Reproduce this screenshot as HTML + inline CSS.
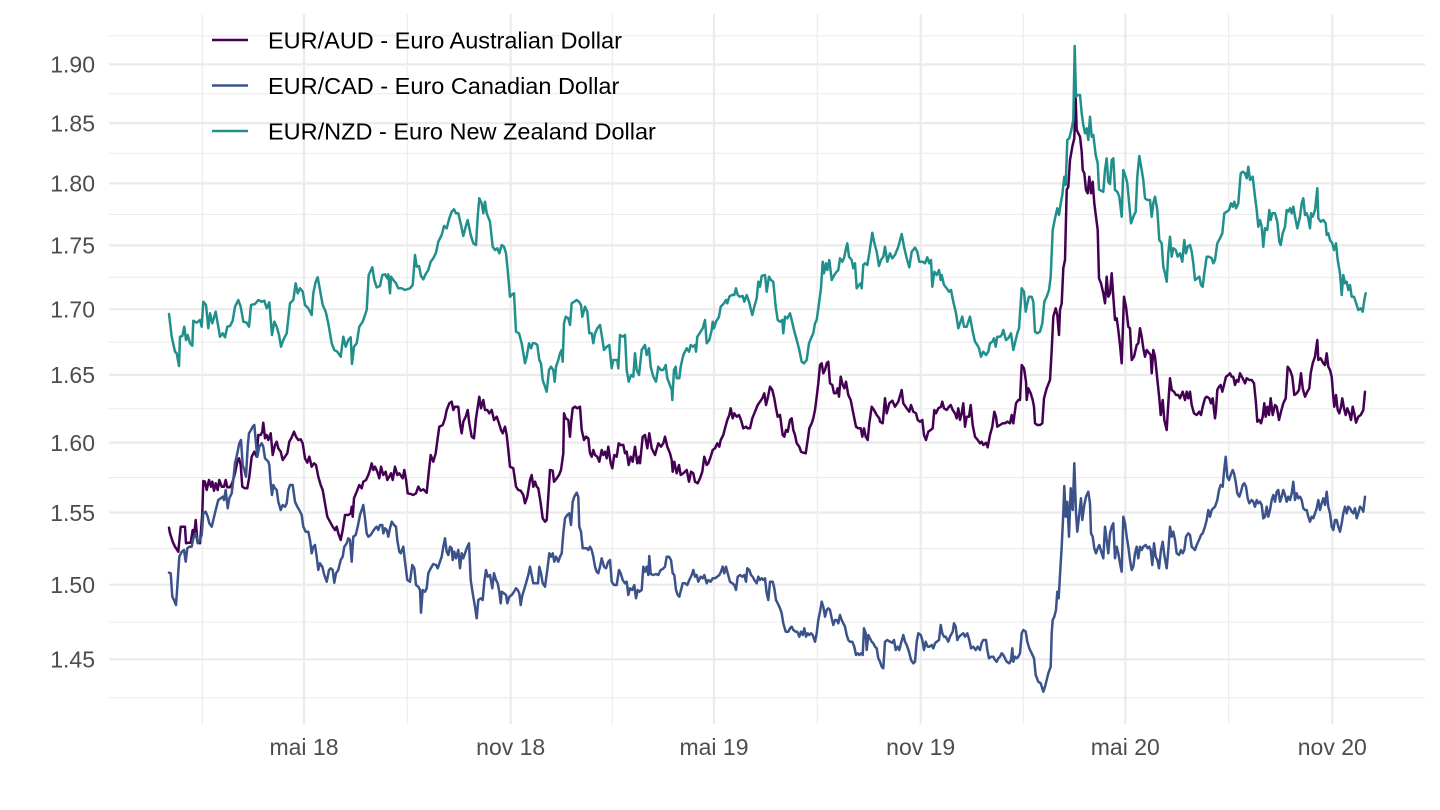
<!DOCTYPE html>
<html>
<head>
<meta charset="utf-8">
<style>
html,body{margin:0;padding:0;background:#fff;}
svg{display:block;font-family:"Liberation Sans",Arial,sans-serif;}
</style>
</head>
<body>
<svg width="1440" height="810" viewBox="0 0 1440 810" xmlns="http://www.w3.org/2000/svg">
<rect width="1440" height="810" fill="#fff"/>
<g stroke="#ebebeb" stroke-width="1.1" fill="none">
<line x1="109" x2="1425" y1="35.8" y2="35.8"/>
<line x1="109" x2="1425" y1="93.75" y2="93.75"/>
<line x1="109" x2="1425" y1="153.25" y2="153.25"/>
<line x1="109" x2="1425" y1="214.4" y2="214.4"/>
<line x1="109" x2="1425" y1="277.3" y2="277.3"/>
<line x1="109" x2="1425" y1="342.05" y2="342.05"/>
<line x1="109" x2="1425" y1="408.75" y2="408.75"/>
<line x1="109" x2="1425" y1="477.55" y2="477.55"/>
<line x1="109" x2="1425" y1="548.6" y2="548.6"/>
<line x1="109" x2="1425" y1="622" y2="622"/>
<line x1="109" x2="1425" y1="697.8" y2="697.8"/>
<line x1="202.3" x2="202.3" y1="14" y2="724"/>
<line x1="407.3" x2="407.3" y1="14" y2="724"/>
<line x1="612.3" x2="612.3" y1="14" y2="724"/>
<line x1="817.3" x2="817.3" y1="14" y2="724"/>
<line x1="1023.3" x2="1023.3" y1="14" y2="724"/>
<line x1="1228.7" x2="1228.7" y1="14" y2="724"/>
</g>
<g stroke="#ebebeb" stroke-width="2.2" fill="none">
<line x1="109" x2="1425" y1="64.4" y2="64.4"/>
<line x1="109" x2="1425" y1="123.1" y2="123.1"/>
<line x1="109" x2="1425" y1="183.4" y2="183.4"/>
<line x1="109" x2="1425" y1="245.4" y2="245.4"/>
<line x1="109" x2="1425" y1="309.2" y2="309.2"/>
<line x1="109" x2="1425" y1="374.9" y2="374.9"/>
<line x1="109" x2="1425" y1="442.6" y2="442.6"/>
<line x1="109" x2="1425" y1="512.5" y2="512.5"/>
<line x1="109" x2="1425" y1="584.7" y2="584.7"/>
<line x1="109" x2="1425" y1="659.3" y2="659.3"/>
<line x1="304" x2="304" y1="14" y2="724"/>
<line x1="510.7" x2="510.7" y1="14" y2="724"/>
<line x1="714" x2="714" y1="14" y2="724"/>
<line x1="920.7" x2="920.7" y1="14" y2="724"/>
<line x1="1125.3" x2="1125.3" y1="14" y2="724"/>
<line x1="1332.3" x2="1332.3" y1="14" y2="724"/>
</g>

<g font-size="23" fill="#4d4d4d" text-anchor="end">
<text x="95" y="72.7">1.90</text>
<text x="95" y="131.4">1.85</text>
<text x="95" y="191.7">1.80</text>
<text x="95" y="253.7">1.75</text>
<text x="95" y="317.5">1.70</text>
<text x="95" y="383.2">1.65</text>
<text x="95" y="450.9">1.60</text>
<text x="95" y="520.8">1.55</text>
<text x="95" y="593">1.50</text>
<text x="95" y="667.6">1.45</text>
</g>
<g font-size="23" fill="#4d4d4d" text-anchor="middle">
<text x="304" y="755">mai 18</text>
<text x="510.7" y="755">nov 18</text>
<text x="714" y="755">mai 19</text>
<text x="920.7" y="755">nov 19</text>
<text x="1125.3" y="755">mai 20</text>
<text x="1332.3" y="755">nov 20</text>
</g>

<g fill="none" stroke-width="2.5" stroke-linejoin="round" stroke-linecap="round">
<polyline stroke="#440154" points="169,527.7 170,533.3 172.7,541.7 175,546.7 178.3,551.7 180.7,526.7 183.3,526.7 185,526.7 186,543.3 188.3,542.7 190.7,542.7 192.7,530 194.3,535 195.7,520 197.3,540 200,543.3 202.3,513.3 203.3,481 205,481.7 206.7,490 209,480 211,486.7 212.3,481.7 214,490.7 215.7,483.3 217.7,490 219.3,480 221.7,486.7 224,486.7 225.7,480 227.3,487.3 230,487.3 232.3,482.7 235,473.3 237.3,461.7 239,458.3 240.7,465 242.3,486.7 245,488.3 247.3,488.3 249.3,476.7 251.7,456.7 254.3,451.7 256.7,456.7 258.3,435 260.7,435 262.3,431.7 263.3,422.7 265,438.3 266.7,435 268.3,440 270.7,433.3 272.7,455 275,445 276.7,441.7 278.3,448.3 280.7,451.7 282.7,460 285,456.7 287.3,453.3 289.3,441.7 291.7,437.3 294,431.7 296,436.7 298.3,440 300.7,439.3 302.7,443.3 305,458.3 307.3,462.7 309.3,456.7 311.7,466.7 314,463.3 316,465 318.3,476.7 320.7,485 322.7,490 325,503.3 327.3,516.7 330,521.7 332.7,526.7 335,530 336.7,526.7 338.3,533.3 340.7,540 342.7,530 345,515 348.3,515 350.7,513.3 351.7,506.7 352.7,516.7 354,498.3 356.7,491.7 359.3,485 361.7,488.3 363.3,481.7 366,480 368.3,475 370,470 371.7,463.3 373.3,470 375,466.7 377.3,471.7 379.3,478.3 381,466.7 383.3,475 385.7,471.7 387.3,480 389.3,476.7 391,473.3 392.7,480 395,466.7 397.3,475 399.3,473.3 402.7,478.3 404.3,470 406,479.3 407.7,493.3 410.7,494 413.3,495 416,493.3 418.3,486.7 420.7,490.7 423.3,489.3 426.7,492.7 429,470 430.7,455 433.3,461.7 435.7,453.3 437,443.3 439.3,426.7 442.7,425 445,418.3 446.7,410 449.3,403.3 451.7,401.7 453.3,410 455,406.7 458.3,406.7 460,423.3 461.7,433.3 463.3,421.7 465.7,416.7 467.7,410 469.3,423.3 471.7,436.7 474,438.3 476,418.3 479.3,396.7 481,408.3 483.3,400 485,410 487.3,410 489.3,413.3 491.7,410 494,420 496.7,416.7 499,423.3 501,430 502.7,433.3 505,426.7 506.7,435 508.3,450 510,466.7 513.3,468.3 516,486.7 518.3,490 520.7,490.7 523.3,495 525,503.3 527.3,496.7 530,480 531.7,475 533.3,486.7 535,481.7 536.7,486.7 538.3,488.3 540.7,503.3 542.7,518.3 545,521.7 546.7,520 548.3,496.7 550,470 552.7,470.7 554,481.7 556.7,478.3 559,475 561,470 563.3,453.3 564,413.3 565.7,418.3 568.3,420 570,436.7 571,423.3 572.7,408.3 575,406.7 577.3,408.3 580,406.7 581.7,430 584,440 586,436.7 588.3,438.3 590,453.3 591.7,456.7 593.3,450 595,455 597.3,456.7 599.3,461.7 601.7,450 603.3,455 605,451.7 606.7,458.3 608.3,446.7 610.7,463.3 612.3,468.3 614.3,455 616.7,456.7 618.7,443.3 620.7,445 623.3,445 625,453.3 626.7,451.7 628.7,465 630.7,456.7 632.7,461.7 635,446.7 637.3,463.3 639.3,456.7 640,463.3 642.7,436.7 645,435 647.3,448.3 649.3,433.3 651.7,448.3 655,455 658.3,443.3 661,446.7 663.3,443.3 665,436.7 667.3,446.7 670,453.3 671.7,460 672.7,471.7 674.3,461.7 676.7,473.3 679,465 680.7,475 683.3,473.3 686.7,470 689,481.7 691,471.7 693.3,473.3 695,481.7 697.7,483.3 700,478.3 702.3,471.7 704.3,456.7 706.7,465 708.3,463.3 710.7,456.7 712.7,450 715,448.3 717.3,443.3 719.3,446.7 720.7,440 723.3,435 725,428.3 727.3,420 729.3,415 730.7,408.3 732.7,418.3 734.3,413.3 736.7,416.7 739,415 741,420 743.3,428.3 746,426.7 747.7,428.3 750,428.3 752.3,418.3 755,411.7 757.7,405 760,401.7 762.3,398.3 764.3,393.3 766,405 767.7,398.3 770,386.7 772.3,390 774.3,398.3 776,408.3 777.7,416.7 780,415 782.7,435 784.3,436.7 786,430 787.7,431.7 790,420 791.7,418.3 793.3,430 795,435 796.7,443.3 799.3,446.7 801,451.7 803.3,452.7 805.7,453.3 807.7,440 809.3,428.3 811.7,423.3 813.3,418.3 815,410 816.7,396.7 818.3,383.3 820,365 821.7,363.3 823.3,373.3 825,370 826.7,363.3 828.3,361.7 830,383.3 832.3,385 834,393.3 836,393.3 837.7,388.3 839,396.7 840.7,376.7 842.7,385 844.3,388.3 846,381.7 848.3,395 850.7,400 852.3,408.3 854,416.7 856,426.7 858.3,428.3 860.7,428.3 862.3,436.7 864,428.3 865.7,436.7 867.7,440 869.3,423.3 871.7,406.7 874,410 876.7,415 879.3,418.3 880,421.7 882.7,423.3 885,398.3 886.7,413.3 889.3,403.3 892.3,400.7 895,406.7 898.3,401.7 901.7,390 903.3,403.3 906.7,408.3 909.3,411.7 911,405 913.3,411.7 916,413.3 917.7,420 920,421.7 922.3,420 924,435 926,440 928.3,431.7 930.7,430 932.7,428.3 934.3,410 936,413.3 938.3,408.3 941,406.7 942.3,401.7 944,408.3 946.7,410 949,406.7 950.7,405 952.7,410 955,413.3 956.7,418.3 958.3,408.3 960,420 961.7,413.3 963.3,403.3 965,426.7 966.7,416.7 969,416.7 970.7,405 972.7,425 975,436.7 977.7,440 980,443.3 981.7,441.7 983.3,445 986,442.7 987.7,447.3 990,435 992.3,426.7 994.3,411.7 996,416.7 997.3,426.7 1000,425 1002.7,423.3 1005,423.3 1007.3,421.7 1010,423.3 1011.7,415 1013.3,423.3 1016,403.3 1018.3,400 1020,400 1021.7,365 1024,368.3 1026,381.7 1026.7,400 1028.3,388.3 1030.7,393.3 1032.7,400 1034,406.7 1035,423.3 1037.3,425 1040,425 1042.3,423.3 1044,398.3 1046.7,388.3 1050,380 1051.7,350 1053.3,316.7 1055.7,308.3 1057.3,315 1059,335 1060,310 1061.7,303.3 1063.3,268.3 1065,260 1066.7,190 1068.3,186.7 1070,160 1072.3,146.7 1074.3,138.3 1075.7,98.3 1076.7,130 1078.3,133.3 1080,136.7 1081.7,151.7 1082.7,170 1084.3,173.3 1086,190 1087.7,193.3 1089.3,176.7 1091,193.3 1092.7,181.7 1094.3,203.3 1096,216.7 1097.7,230 1099,278.3 1101,283.3 1103.3,293.3 1105,303.3 1106.7,276.7 1108.3,296.7 1110,293.3 1111.7,273.3 1113.3,296.7 1115,320 1116.7,318.3 1118.3,330 1120,345 1121.7,363.3 1124,296.7 1126,306.7 1128.3,326.7 1130,328.3 1131.7,360 1134,356.7 1136.7,345 1138.3,343.3 1140,328.3 1141.7,336.7 1143.3,348.3 1145,356.7 1146.7,350 1149.3,353.3 1150.7,355 1151.7,373.3 1153.3,350 1155,356.7 1156.7,373.3 1159.3,398.3 1160.7,415 1162.7,400 1164.3,420 1166.7,430 1168.3,403.3 1170,378.3 1171.7,390 1174,391.7 1176,395 1178.3,395 1180,398.3 1182.7,391.7 1185,400 1186.7,391.7 1188.3,398.3 1190,391.7 1191.7,405 1194,413.3 1196.7,415 1199.3,411.7 1201,415 1202.7,406.7 1205,398.3 1206.7,396.7 1209.3,398.3 1211,403.3 1212.7,398.3 1215,418.3 1216,410 1217.3,390 1219,386.7 1220.7,385 1222.3,391.7 1224,385 1226,376.7 1228.3,375 1230,373.3 1231.7,376.7 1233.3,376.7 1235,385 1236.7,380 1238.3,381.7 1240,373.3 1242.7,378.3 1245,383.3 1246.7,378.3 1249.3,380 1251.7,380 1254,383.3 1256,403.3 1257.3,421.7 1259.3,420 1261,423.3 1262.7,416.7 1264.3,403.3 1265.7,416.7 1267.3,406.7 1269,415 1270.7,398.3 1272.7,415 1275,405 1276.7,406.7 1279,420 1281,411.7 1283.3,403.3 1285.7,398.3 1287.7,366.7 1290,370 1292.3,376.7 1294.3,395 1296.7,393.3 1299,390 1301,373.3 1302.7,388.3 1305,396.7 1307.3,391.7 1309.3,388.3 1310.7,373.3 1312.7,363.3 1315,356.7 1317.3,340 1318.3,360 1320.7,358.3 1323.3,363.3 1325,365 1326.7,353.3 1328.3,366.7 1330,370 1331.7,376.7 1333.3,396.7 1334.3,406.7 1336,395 1337.7,410 1339.3,413.3 1341,406.7 1342.3,398.3 1344,408.3 1345.7,415 1347.3,408.3 1349.3,413.3 1351,420 1352.7,406.7 1354.3,413.3 1356,422.7 1358.3,416.7 1360.7,415 1363.3,410 1365,391.7"/>
<polyline stroke="#3b528b" points="169,572.7 170.7,573.3 172.3,596.7 174,600 176,605 177.3,586.7 179.3,556.7 181.7,551.7 184,550 185.7,561.7 187.3,548.3 189.3,546.7 191.7,546.7 193.3,538.3 195.7,533.3 197.7,543.3 200,540 201.7,535 203.3,513.3 205.7,511.7 207.7,516.7 209.3,523.3 211.7,526.7 213.3,520 215.7,510 218.3,500 220.7,498.3 222.7,496.7 224,500 225.7,490 227.7,508.3 229.3,498.3 231.7,493.3 233.3,480 235,463.3 237.3,453.3 239.3,443.3 241,440 242.7,465 244.3,470 246,476.7 247.7,446.7 249,433.3 251,430 252.7,426.7 254.3,425 256,443.3 257.3,456.7 259.3,446.7 261.7,443.3 263.3,446.7 265,458.3 266.7,460 268.3,461.7 269.3,465 270.7,483.3 272,495 273.3,485 275,488.3 276.7,490 278.3,501.7 280.7,510 282.7,505 285,506.7 286.7,503.3 288.3,490 290,485 292.7,485 295,501.7 297.3,506.7 299.3,510 301.7,515 303.3,526.7 305.7,531.7 308.3,531.7 310,540 311.7,553.3 313.3,546.7 315,545 316.7,556.7 318.3,570 320,563.3 322.3,566.7 324.3,575 326.7,581.7 329,570 330.7,568.3 332.7,570 334.3,582.7 336,573.3 338.3,570 340.7,560 342.7,556.7 344.3,546.7 346.7,543.3 348.3,538.3 350,540 351.7,561.7 353.3,536.7 355.7,535 357.7,526.7 360,515 361.7,510 363.3,505 365,518.3 366.7,533.3 368.3,536.7 370.7,535 372.7,531.7 375,528.3 376.7,526.7 378.3,530 380,525 382.3,525 383.3,533.3 385,528.3 386.7,530 388.3,536.7 390,528.3 391.7,521.7 394,525 396,526.7 397.3,540 399.3,551.7 400.7,553.3 403.3,546.7 405,561.7 407.3,580 410,581.7 412.3,565 414.3,568.3 416,585 418.3,586.7 420,590 421,612.7 422.7,590 425,591.7 426.7,588.3 428.3,573.3 430.7,568.3 433.3,564 436,565 437.7,568.3 440,561.7 441.7,556.7 443.3,546.7 445,538.3 446.7,551.7 448.3,555 450,546.7 451.7,548.3 452.7,560 454.3,551.7 456,558.3 458.3,550 460,568.3 461.7,553.3 463.3,558.3 465,553.3 466.7,548.3 469,543.3 470.7,580 472.7,593.3 475,606.7 476.7,618.3 478.3,600 480.7,598.3 482.7,600 484.3,581.7 486,570 487.7,576.7 490,575 492.3,588.3 494,573.3 496,580 497.7,583.3 499.3,591.7 500.7,603.3 501.7,591.7 504,593.3 506,595 507.3,603.3 509.3,596.7 511.7,595 514,591.7 516,588.3 517.7,590 519.3,593.3 520.7,605 522,596.7 524,590 526,583.3 528.3,575 530,566.7 531.7,575 533.3,583.3 536,583.3 538,583.3 539.3,566.7 541,573.3 542.7,583.3 545,586.7 547.3,570 549.3,553.3 551,556.7 552.7,553.3 554.3,561.7 556,556.7 558.3,561.7 560,556.7 561.7,553.3 563.3,533.3 565,518.3 567.3,515 569.3,513.3 571,525 572.7,501.7 574.3,496.7 576.7,492.7 578.3,496.7 579.3,526.7 581,531.7 582.7,548.3 585,548.3 586.7,548.3 588.3,550 590,546.7 591.7,550 593.3,556.7 595,566.7 596.7,571.7 598.3,573.3 600,566.7 601.7,558.3 604,566.7 606,568.3 608.3,561.7 610,560 611.7,581.7 614,585 616.7,585 619,570 620.7,573.3 622.7,580 625,583.3 626.7,581.7 628.3,595 630,588.3 632.3,590 634.3,585 636,598.3 637.7,590 639.3,591.7 641.7,590 643.3,566.7 645,571.7 646.7,566.7 648.3,575 649.3,556 650.7,574 653.3,575 656,574 658.3,575 660.7,570 662.7,569 665,566.7 666.7,556.7 669,556.7 671,560 672.7,573.3 674.3,575 676,590 677.7,595 679.3,596.7 681,590 682.7,583.3 685,583.3 687.3,585 689.3,580 691.7,575 693.3,570 695,576.7 696.7,575 698.3,581.7 700.7,576.7 702.7,578.3 704.3,575 706.7,583.3 708.3,580 710.7,581.7 712.7,578.3 715,578.3 717.3,576.7 719.3,575 721,571.7 722.7,566.7 724.3,573.3 726,566.7 727.7,573.3 730,581.7 732.3,583.3 734.3,585 736,590 737.7,576.7 740,575 742.3,576.7 744.3,575 746,581.7 747.3,568.3 749.3,570 751,575 752.7,576.7 754.3,580 756.7,583.3 758.3,576.7 760,580 761.7,578.3 763.3,580 765,578.3 766.7,593.3 768.3,600 770,581.7 772.7,581.7 774.3,588.3 776,600 777.7,603.3 780,608.3 781.7,613.3 783.3,623.3 785.7,631.7 788.3,631.7 790,628.3 791.7,626.7 793.3,630 795.7,631.7 797.3,631.7 799.3,636.7 801,631.7 802.7,635 804.3,628.3 806,636.7 807.7,633.3 809.3,635 811,633.3 812.7,635 815,641.7 816.7,633.3 818.3,620 820,611.7 821.7,601.7 823.3,606.7 825,616.7 826.7,610 828.3,608.3 830,610 831.7,618.3 833.3,625 835,620 836.7,620 838.3,623.3 840,615 841.7,620 843.3,623.3 845,626.7 846.7,635 848.3,640 850,641.7 852.3,641.7 854.3,646.7 856,655 857.7,653.3 859.3,655 861,653.3 862.7,655 864,628.3 865.7,633.3 866.7,650 868.3,635 870,638.3 871.7,641.7 873.3,643.3 875,646.7 876.7,648.3 878.3,658.3 880,661.7 881.7,666.7 883.3,668.3 885,641.7 887.3,640 890,641.7 892.3,642.7 894,640 895.7,650 897.7,646.7 899.3,650 901,643.3 903.3,635 905,641.7 906.7,645 909,651.7 911,660 913.3,663.3 915,661.7 916.7,641.7 918.3,633.3 920.7,635 922.3,640 924,650 925.7,641.7 927.7,646.7 929.3,646.7 931.7,645 933.3,648.3 935,643.3 936.7,641.7 939,640 940.7,625 942.3,633.3 944,636.7 945.7,636.7 948.3,641.7 950,636.7 952.7,631.7 954,623.3 955.7,626.7 957.3,640 959,636.7 961,635 963.3,633.3 965,636.7 967.3,633.3 969.3,640 971,648.3 973.3,646.7 975.7,650 977.7,646.7 980,650 981.7,642.7 983.3,640 986,640 987.3,650 989,658.3 991,656.7 993.3,656.7 995,660 996.7,661.7 998.3,658.3 1000,656.7 1001.7,653.3 1003.3,655 1005,658.3 1006.7,661.7 1009.3,663.3 1011,660 1012.3,648.3 1013.3,661.7 1015,656.7 1016.7,658.3 1018.3,656.7 1020,653.3 1021.7,633.3 1023.3,630 1025.7,631.7 1027.3,641.7 1029.3,648.3 1031.7,653.3 1034,658.3 1035.7,675 1038.3,681.7 1040.7,683.3 1043.3,691.7 1045,686.7 1046.7,680 1048.3,673.3 1050.7,666.7 1051.7,633.3 1052.7,620 1054.3,616.7 1056,610 1057.3,591.7 1058.7,598.3 1060,575 1061.7,546.7 1063.3,513.3 1064.3,486 1065.7,516.7 1067.3,501.7 1069,536.7 1070.7,488.3 1072.7,510 1074.3,463.3 1076,513.3 1077.3,531.7 1079,516.7 1081,498.3 1082.3,520 1084.3,505 1086,496.7 1088.3,491.7 1090,503.3 1091,533.3 1092.7,536.7 1094.3,548.3 1096,553.3 1097.7,548.3 1099.3,545 1101.7,553.3 1103.3,558.3 1105,526.7 1106.7,540 1108.3,553.3 1110,533.3 1111.7,526.7 1113.3,523.3 1115,558.3 1116.7,546.7 1118.3,553.3 1120,563.3 1121.7,571.7 1123.3,516.7 1125,523.3 1126.7,536.7 1128.3,546.7 1130,560 1131.7,570 1133.3,566.7 1135,553.3 1136.7,546.7 1138.3,558.3 1140,546.7 1141.7,550 1143.3,546.7 1145.7,545 1147.7,548.3 1149.3,546.7 1150.7,550 1152.3,565 1154,543.3 1155.7,556.7 1157.3,560 1159,568.3 1161,550 1162.7,541.7 1164.3,555 1166.7,568.3 1168.3,550 1170,526.7 1171.7,536.7 1173.3,531.7 1175,540 1176.7,553.3 1179,555 1181,550 1182.7,553.3 1184.3,550 1186,536.7 1188.3,533.3 1190,535 1191.7,546.7 1193.3,548.3 1195,550 1196.7,545 1199,540 1201,535 1202.7,533.3 1205,526.7 1206.7,520 1208.3,510 1210,516.7 1211.7,510 1213.3,508.3 1215,506.7 1217.3,500 1219,490 1220.7,485 1222.7,486.7 1224,471.7 1225.7,456.7 1227.3,476.7 1229,480 1230.7,475 1232.7,470 1234,473.3 1235.7,481.7 1237.3,493.3 1239.3,496.7 1241,491.7 1242.7,485 1244.3,483.3 1246,486.7 1247.7,498.3 1249.3,503.3 1251.7,500 1253.3,501.7 1255,506.7 1256.7,500 1258.3,503.3 1260,501.7 1261.7,505 1263.3,518.3 1265,516.7 1266.7,506.7 1268.3,516.7 1270,510 1271.7,500 1273.3,495 1275,501.7 1276.7,491.7 1278.3,490 1280,501.7 1281.7,496.7 1283.3,490 1285,495 1286.7,501.7 1288.3,496.7 1290,500 1291.7,493.3 1293.3,481.7 1295,500 1296.7,493.3 1298.3,498.3 1300,496.7 1301.7,500 1303.3,508.3 1305,510 1306.7,510 1308.3,516.7 1310,521.7 1311.7,516.7 1313.3,518.3 1315,513.3 1316.7,508.3 1318.3,500 1320,510 1321.7,503.3 1323.3,498.3 1325,505 1326.7,491.7 1328.3,506.7 1330,513.3 1331.7,526.7 1333.3,530 1335,520 1336.7,520 1338.3,526.7 1340,531.7 1341.7,523.3 1343.3,513.3 1345,506.7 1346.7,513.3 1348.3,506.7 1350,508.3 1351.7,511.7 1353.3,513.3 1355,508.3 1356.7,518.3 1358.3,513.3 1360,506.7 1361.7,508.3 1363.3,511.7 1365,496.7"/>
<polyline stroke="#21908c" points="169,314 171.7,336.7 175,351.7 176.7,353.3 179,366 180,336.7 182.3,336 184.3,326.7 186,340 187.7,335 190,343.3 192.3,345.7 193.3,320.7 196.7,322.7 200,320 201.7,326.7 203.3,301.7 206,305 208.3,328.3 210,313.3 212.3,323.3 215.7,311.7 217.7,323.3 220,336.7 222.7,333.3 225,337.3 227.3,326.7 230,326 232.7,320.7 235,306.7 238.3,300 240.7,306.7 243.3,321.7 246.7,322.7 249,326.7 251,305 255,304 258.3,300 261.7,301.7 264.3,300.7 266.7,308.3 269.3,302.3 272,335 274.3,321.7 276.7,326.7 279,335 281,346.7 283.3,340 286.7,333.3 290,303.3 293.3,300 295.7,283.3 297.7,293.3 300,288.3 302.7,291.7 305,305 308.3,308.3 311.7,315 313.3,293.3 315.7,281.7 317.7,277.3 320,290 322.7,305 325.7,311.7 328.3,323.3 331.7,343.3 334.3,350 337.3,351.7 340.7,356.7 343.3,336.7 345.7,346.7 348.3,340 350.7,337.3 352,364 354,346.7 356.7,343.3 359.3,326.7 362.7,321.7 366.7,310 368.7,275 372.3,267.3 374.3,280 376.7,287.3 380,286 382.3,275 385,274.3 387.3,278.3 388.3,274.3 390,293.3 391,276.7 393.3,280 396,283.3 398.3,288.3 401.7,288.3 405,290 410,288.3 412.7,285 415,255 416.7,266.7 419,266 421,276 423.3,279.3 425.7,274 428.3,270 430.7,261.7 433.3,258.3 436,252.7 438.3,241.7 441.7,235 444,226 446.7,228.3 449.3,218.3 451.7,211.7 454,209.3 456,213.3 458.3,213.3 461,225 463.3,236 465.7,226.7 467.7,220 470.7,235 473.3,243.3 476,245 477.7,216.7 479.3,198.3 481.7,203.3 483.3,213.3 485,201.7 486.7,213.3 490,221.7 492.7,246.7 495,250 497.3,248.3 499.3,253.3 501.7,245 504,246.7 506,253.3 507.7,270 510,296.7 512.3,294.3 514,293.3 516,331.7 519,333.3 521.7,343.3 525,363.3 526.7,356.7 529,343.3 531,348.3 532.7,343.3 535,343.3 537.3,345 539.3,360 541,363.3 542.7,380 545,386.7 546.7,391.7 549,370 551,366.7 553.3,370 554.7,381.7 556,366.7 558.3,360 560,353.3 561.7,350 562.7,361.7 564,323.3 565.7,316.7 568.3,318.3 570,325 571.7,303.3 574.3,301.7 576.7,300 579,301.7 581,305 582.3,316.7 585,306.7 587.3,311.7 589.3,333.3 591.7,333.3 593.3,343.3 595,333.3 597.3,328.3 600,325 601.7,335 604,350 606.7,346.7 609.3,345 611.7,368.3 613.3,360 617.3,360 618.3,368.3 620,335 622.7,336.7 625,335 626.7,370 628.7,381.7 631,375 633.3,376.7 635,353.3 636.7,370 639,375 641.7,350 645,345 646.7,355 649,348.3 650.7,366.7 653.3,376.7 656,381.7 658.3,366.7 660.7,370 663.3,370 665.7,365 667.3,378.3 669.3,383.3 671.7,390 672.3,400 674,370 675.7,366.7 676.7,378.3 679.3,378.3 680.7,366.7 683.3,355 686.7,348.3 689,351.7 690.7,345 692.7,346.7 695,345 696,351.7 697.3,336.7 700,332.7 702.7,328.3 705,320 706.7,343.3 709.3,340 711.7,330 712.7,321.7 714,328.3 716,321.7 719,316.7 720.7,306.7 724,303.3 726,300 727.3,303.3 729.3,296.7 731.7,295 734.3,295 736,288.3 737.7,295 740,296.7 742.7,296 744.3,301.7 746.7,295 749,301.7 751,310 752.3,315 754.3,306.7 756.7,298.3 758.3,281.7 760,286.7 761.7,276 765,275 766.7,291.7 769,276.7 771,280 773.3,281.7 775.7,306.7 777.7,320 780,321.7 782.3,320 783.3,333.3 785,316.7 787.3,318.3 790,313.3 791.7,320 794,330 796.7,340 799.3,350 801.7,361.7 804,363.3 806.7,360 809,343.3 811,338.3 813.3,333.3 815,323.3 816.7,320 819,303.3 821,288.3 822.7,261.7 824,273.3 826,263.3 827.3,270 829.3,260 831.7,280 834.3,275 836.7,271.7 838.3,270 840,258.3 842.3,261.7 844,258.3 845.7,250 847.3,243.3 849,256.7 851.7,260 853.3,268.3 855,263.3 856.7,288.3 859,285 860.7,283.3 861.7,288.3 863.3,265 865,263.3 867.3,265 869.3,253.3 871,241.7 872.3,232.7 874,241.7 876.7,251.7 879,266 881,260 883.3,256.7 885,246.7 887.3,261.7 890,253.3 892.3,258.3 895,255 898.3,246.7 901.7,234 904,246.7 906.7,258.3 909.3,267.3 911.7,251.7 915,247.7 917.3,251.7 919.3,261.7 922.7,261.7 925,263.3 927.3,257.3 929.3,263.3 931,260 932.3,286.7 934.3,271.7 936.7,275 939,270 940.7,280 941.7,275 944,285 946.7,288.3 949,291.7 951,290 953.3,301.7 956,313.3 958.3,328.3 960,323.3 962.3,316.7 964,326.7 966.7,326.7 968.3,321.7 970,316.7 972.7,331.7 975,341.7 977.3,345 979,348.3 981,356.7 983.3,351.7 986,355 988.3,351.7 990,343.3 992.3,341.7 994,338.3 995.7,346.7 997.3,336.7 1000,336.7 1001.7,335 1003.3,330 1006,340 1008.3,338.3 1011,333.3 1013.3,350 1015.7,340 1017.3,333.3 1019,328.3 1021.7,288.3 1024,291.7 1025.7,311.7 1027.3,303.3 1029,296.7 1031.7,296.7 1033.3,301.7 1035,331.7 1037.3,333.3 1040,331.7 1042.3,323.3 1044.3,301.7 1046.7,296.7 1049,290 1050.7,276.7 1052.7,230 1055,218.3 1057.3,208.3 1059,215 1060.7,203.3 1062.3,195 1064.3,176.7 1065.7,185 1067.3,140 1069.3,138.3 1071.7,128.3 1073.3,120 1074.7,46 1076,96.7 1077.7,95 1080,95 1081.7,113.3 1083.3,125 1085,133.3 1086.7,128.3 1088.3,140 1090,116.7 1091.7,136.7 1093.3,135 1095.7,155 1097.7,163.3 1099,189.3 1101,190.7 1103.3,191.7 1105,170 1106.7,158.3 1108.3,181.7 1110,184 1111.7,160 1113.3,158.3 1115,190 1117.3,191.7 1119.3,196.7 1121.7,216.7 1123.3,170 1125.7,176.7 1127.3,183.3 1129,201.7 1131,223.3 1133.3,216.7 1135.7,211.7 1137.3,176.7 1139.3,156 1141.7,170 1143.3,180 1145,198.3 1147.3,200 1150,200 1151.7,216.7 1153.3,203.3 1155,196.7 1157.3,210 1159.3,240 1161.7,243.3 1163.3,266.7 1165,273.3 1166.7,281.7 1168.3,253.3 1170,236.7 1171.7,256.7 1173.3,248.3 1175.7,250 1177.7,256.7 1180,253.3 1182.3,261.7 1184.3,240 1186,253.3 1187.7,246.7 1190,245 1191.7,251.7 1193.3,263.3 1195,280 1197.3,278.3 1199.3,276.7 1201,285 1202.7,286.7 1204.3,273.3 1206.7,256.7 1209,256.7 1211.7,258.3 1213.3,263.3 1215,260 1217.3,243.3 1220,238.3 1222.3,233.3 1224.3,213.3 1226.7,211.7 1229,210 1231,203.3 1232.7,206.7 1234.3,201.7 1236,208.3 1238.3,203.3 1240.7,173.3 1242.7,171.7 1245,173.3 1246.7,178.3 1248.3,166.7 1250,180 1252.7,176.7 1255,196.7 1256.7,210 1258.3,226.7 1260,220 1261.7,226.7 1263.3,246.7 1265,228.3 1267.3,230 1269.3,210 1270.7,220 1272.3,213.3 1275,213.3 1277.3,221.7 1279.3,241.7 1280.7,245 1282.7,233.3 1285,226.7 1286.7,210 1288.3,211.7 1290,208.3 1291.7,213.3 1293.3,206.7 1295,216.7 1297.3,228.3 1300,216.7 1301.7,203.3 1303.3,198.3 1305,215 1306.7,213.3 1308.3,218.3 1310,228.3 1311,213.3 1312.7,216.7 1315,210 1317.3,188.3 1318.3,218.3 1320.7,221.7 1323.3,220 1325.7,223.3 1326.7,235 1328.3,233.3 1330,240 1332.3,243.3 1334,250 1336,243.3 1337.7,260 1340,273.3 1341.7,295 1343.3,275 1345,283.3 1346.7,281.7 1348.3,290 1350,285 1351.7,296.7 1354,296.7 1356.7,305 1358.3,310 1360.7,308.3 1362.7,311.7 1364.3,300 1365.7,293.3"/>
</g>

<g stroke-width="2.5">
<line x1="212" x2="248" y1="40" y2="40" stroke="#440154"/>
<line x1="212" x2="248" y1="85.5" y2="85.5" stroke="#3b528b"/>
<line x1="212" x2="248" y1="131" y2="131" stroke="#21908c"/>
</g>
<g font-size="23.5" fill="#000">
<text x="268" y="48.4">EUR/AUD - Euro Australian Dollar</text>
<text x="268" y="93.9">EUR/CAD - Euro Canadian Dollar</text>
<text x="268" y="139.4">EUR/NZD - Euro New Zealand Dollar</text>
</g>
</svg>
</body>
</html>
